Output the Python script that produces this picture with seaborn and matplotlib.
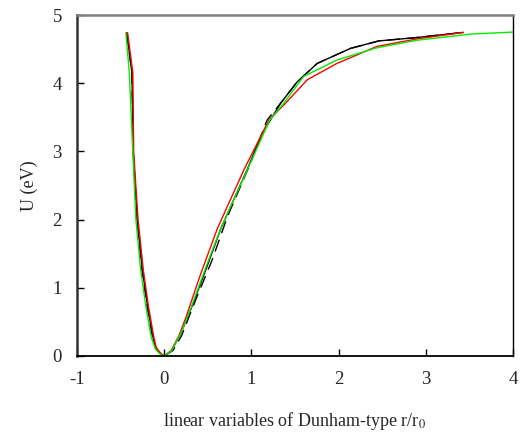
import matplotlib
matplotlib.use("Agg")
import matplotlib.pyplot as plt
import seaborn as sns

# Black solid curve
black_x = [-0.43, -0.40, -0.37, -0.355, -0.31, -0.25, -0.19, -0.13, -0.10, -0.05, 0.0,
           0.08, 0.19, 0.31, 0.49, 0.65, 0.95, 1.125, 1.334, 1.525, 1.754, 2.135, 2.46, 2.9, 3.43]
black_y = [4.74, 4.45, 4.15, 2.98, 2.0, 1.26, 0.72, 0.28, 0.12, 0.04, 0.0,
           0.07, 0.33, 0.70, 1.31, 1.87, 2.73, 3.265, 3.705, 4.02, 4.29, 4.51, 4.62, 4.67, 4.745]

# Black dashed curve
dash_x = [-0.43, -0.40, -0.37, -0.355, -0.31, -0.255, -0.195, -0.135, -0.10, -0.05, 0.0,
          0.10, 0.20, 0.36, 0.55, 0.724, 0.99, 1.18, 1.334, 1.525, 1.754, 2.135, 2.46, 2.9, 3.43]
dash_y = [4.74, 4.45, 4.15, 2.98, 2.0, 1.26, 0.72, 0.28, 0.12, 0.04, 0.0,
          0.08, 0.30, 0.82, 1.41, 2.04, 2.83, 3.46, 3.705, 4.02, 4.29, 4.51, 4.62, 4.67, 4.745]

# Red curve
red_x = [-0.42, -0.39, -0.36, -0.35, -0.30, -0.24, -0.18, -0.12, -0.09, -0.04, 0.0,
         0.08, 0.17, 0.25, 0.42, 0.61, 0.914, 1.2, 1.39, 1.64, 1.98, 2.44, 2.9, 3.43]
red_y = [4.74, 4.45, 4.15, 2.98, 2.0, 1.26, 0.72, 0.28, 0.12, 0.04, 0.0,
         0.08, 0.30, 0.57, 1.21, 1.87, 2.73, 3.46, 3.705, 4.05, 4.29, 4.54, 4.65, 4.745]

# Green curve
green_x = [-0.44, -0.40, -0.36, -0.325, -0.27, -0.21, -0.15, -0.10, -0.05, 0.0,
           0.08, 0.19, 0.30, 0.48, 0.648, 0.953, 1.21, 1.37, 1.6, 1.98, 2.44, 2.9, 3.51, 4.0]
green_y = [4.74, 4.15, 2.98, 2.0, 1.26, 0.72, 0.28, 0.10, 0.03, 0.0,
           0.07, 0.33, 0.68, 1.31, 1.87, 2.73, 3.46, 3.705, 4.10, 4.34, 4.52, 4.63, 4.72, 4.75]

sns.set_style("ticks")
plt.rcParams['font.family'] = ['Liberation Serif', 'DejaVu Serif']
plt.rcParams['mathtext.fontset'] = 'stix'
plt.rcParams['axes.unicode_minus'] = False

fig = plt.figure(figsize=(5.24, 4.47), dpi=100)
ax = fig.add_axes([0.147, 0.2036, 0.832, 0.7628])

sns.lineplot(x=black_x, y=black_y, sort=False, color='black', lw=1.0, ax=ax, estimator=None)
sns.lineplot(x=dash_x, y=dash_y, sort=False, color='black', lw=1.0, ax=ax, estimator=None,
             linestyle=(0, (9, 5)))
sns.lineplot(x=red_x, y=red_y, sort=False, color='#ff0000', lw=1.0, ax=ax, estimator=None)
sns.lineplot(x=green_x, y=green_y, sort=False, color='#00ee00', lw=1.0, ax=ax, estimator=None)

ax.set_xlim(-1, 4)
ax.set_ylim(0, 5)
ax.set_xticks([-1, 0, 1, 2, 3, 4])
ax.set_yticks([0, 1, 2, 3, 4, 5])
ax.tick_params(direction='in', length=5, width=1, labelsize=13.5, color='black')
ax.tick_params(axis='y', pad=11)
ax.tick_params(axis='x', pad=11)

ax.spines['left'].set_linewidth(1.8)
ax.spines['left'].set_color('#333333')
ax.spines['top'].set_linewidth(1.8)
ax.spines['top'].set_color('#808080')
ax.spines['right'].set_linewidth(1.0)
ax.spines['right'].set_color('black')
ax.spines['bottom'].set_linewidth(1.3)
ax.spines['bottom'].set_color('black')

ax.set_ylabel('U (eV)', fontsize=13, labelpad=10)
ax.set_xlabel('linear variables of Dunham-type r/r$_0$', fontsize=13, labelpad=16)

fig.savefig('out.png', dpi=100)
